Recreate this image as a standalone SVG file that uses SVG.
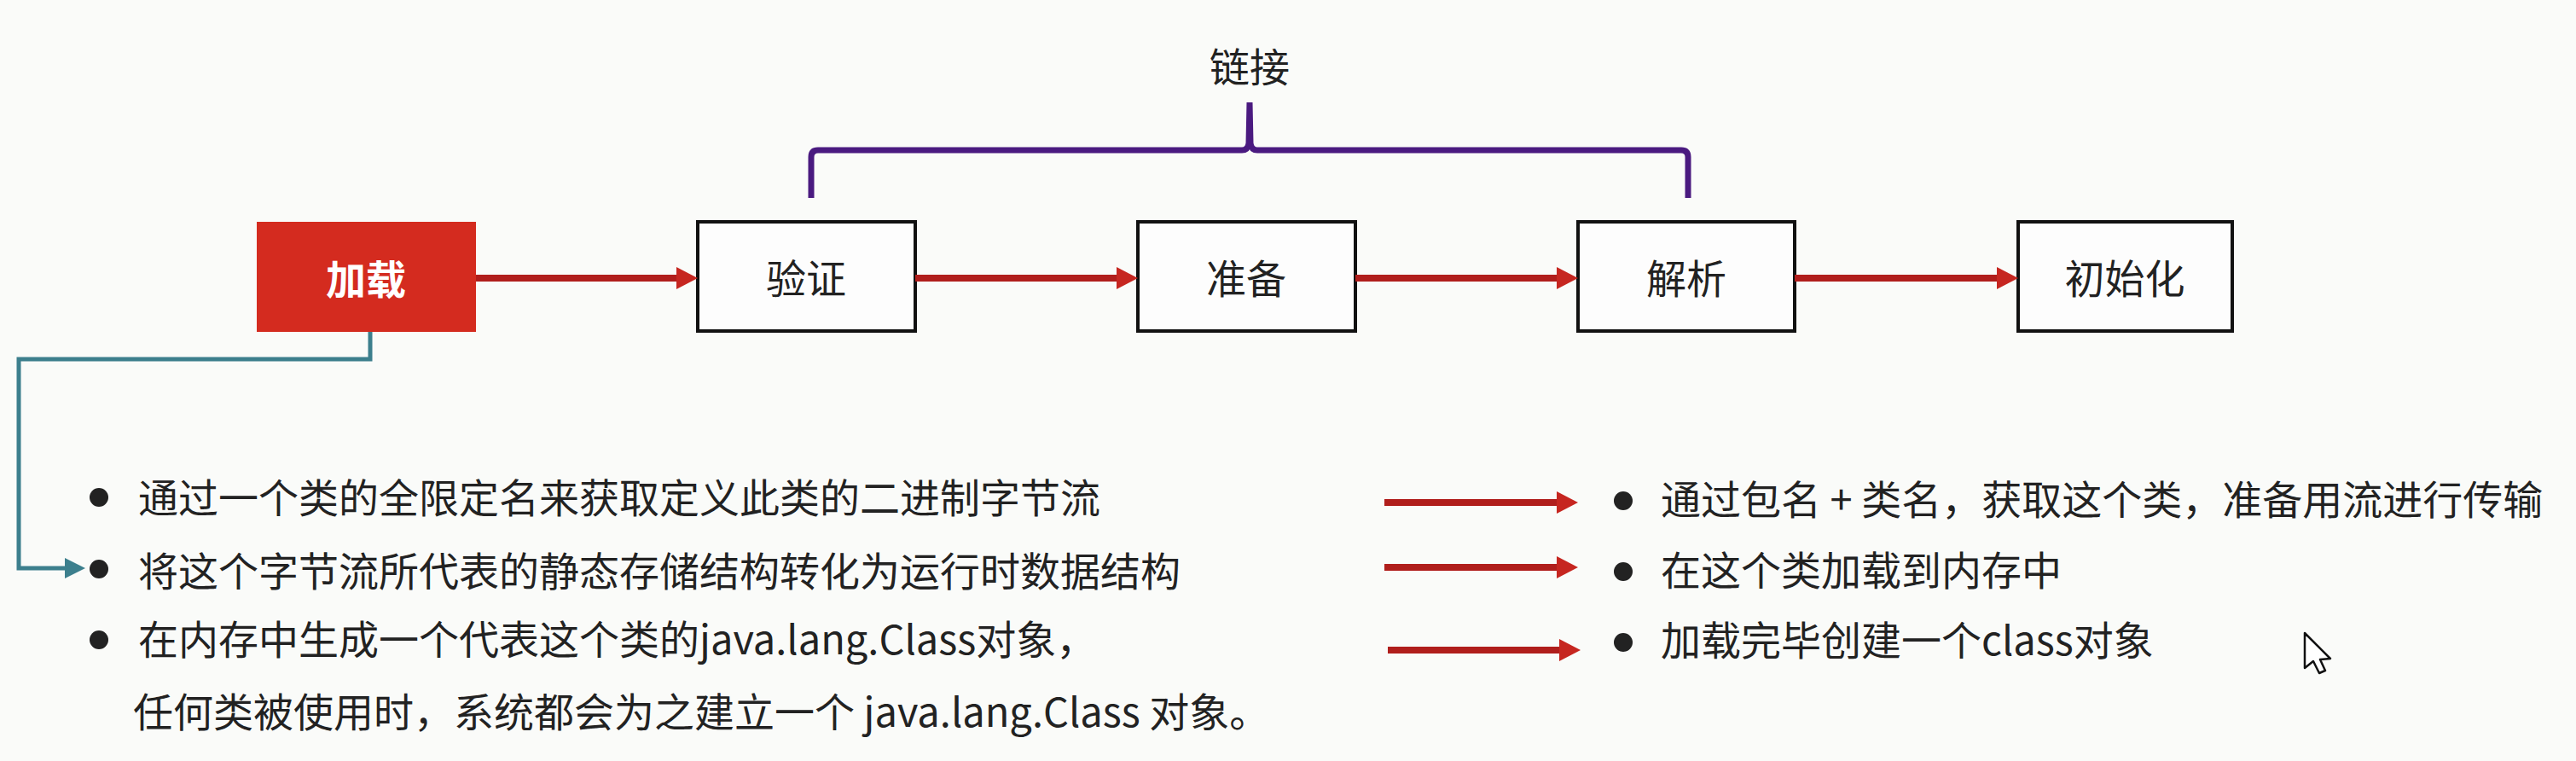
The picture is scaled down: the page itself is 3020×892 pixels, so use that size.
<svg xmlns="http://www.w3.org/2000/svg" width="3020" height="892" viewBox="0 0 3020 892">
  <style>
    .t { font-family: "Noto Sans CJK SC", "Noto Sans", sans-serif; font-size: 47px; fill: #222; }
    .box { fill: #fdfdfd; stroke: #111; stroke-width: 4; }
    .red { stroke: #b01e1c; stroke-width: 8; fill: none; }
    .teal { stroke: #3c7f8d; stroke-width: 5; fill: none; }
    .bullet { fill: #222; }
  </style>
  <defs>
    <marker id="ah" markerUnits="userSpaceOnUse" markerWidth="26" markerHeight="28" refX="1" refY="13" orient="auto">
      <path d="M0,0 L25,13 L0,26 Z" fill="#c62620"/>
    </marker>
    <marker id="ahTeal" markerUnits="userSpaceOnUse" markerWidth="26" markerHeight="26" refX="1" refY="12" orient="auto">
      <path d="M0,0 L24,12 L0,24 Z" fill="#3c7f8d"/>
    </marker>
  </defs>
  <rect width="3020" height="892" fill="#fafbf9"/>

  <g id="brace">
    <path d="M951,232 V184 Q951,176 959,176 H1456 Q1463,176 1464,168 L1465,120 L1466,168 Q1467,176 1474,176 H1971 Q1979,176 1979,184 V232" fill="none" stroke="#4a1a80" stroke-width="7"/>
    <text class="t" x="1465" y="96" text-anchor="middle">链接</text>
  </g>

  <g id="node-load">
    <rect x="301" y="260" width="257" height="129" fill="#d42b1f"/>
    <text class="t" x="429" y="345" text-anchor="middle" style="fill:#fff;font-weight:bold">加载</text>
  </g>
  <g id="node-verify">
    <rect class="box" x="818" y="260" width="255" height="128"/>
    <text class="t" x="945" y="344" text-anchor="middle">验证</text>
  </g>
  <g id="node-prepare">
    <rect class="box" x="1334" y="260" width="255" height="128"/>
    <text class="t" x="1461" y="344" text-anchor="middle">准备</text>
  </g>
  <g id="node-resolve">
    <rect class="box" x="1850" y="260" width="254" height="128"/>
    <text class="t" x="1977" y="344" text-anchor="middle">解析</text>
  </g>
  <g id="node-init">
    <rect class="box" x="2366" y="260" width="251" height="128"/>
    <text class="t" x="2491" y="344" text-anchor="middle">初始化</text>
  </g>

  <g id="connectors">
    <line class="red" x1="558" y1="326" x2="794" y2="326" marker-end="url(#ah)"/>
    <line class="red" x1="1073" y1="326" x2="1310" y2="326" marker-end="url(#ah)"/>
    <line class="red" x1="1589" y1="326" x2="1826" y2="326" marker-end="url(#ah)"/>
    <line class="red" x1="2104" y1="326" x2="2342" y2="326" marker-end="url(#ah)"/>
    <path class="teal" d="M434,389 V421 H22 V666 H77" marker-end="url(#ahTeal)"/>
    <line class="red" x1="1623" y1="589" x2="1826" y2="589" marker-end="url(#ah)"/>
    <line class="red" x1="1623" y1="665" x2="1826" y2="665" marker-end="url(#ah)"/>
    <line class="red" x1="1627" y1="762" x2="1829" y2="762" marker-end="url(#ah)"/>
  </g>

  <g id="left-list">
    <circle class="bullet" cx="116" cy="583" r="11"/>
    <text class="t" x="162" y="601">通过一个类的全限定名来获取定义此类的二进制字节流</text>
    <circle class="bullet" cx="116" cy="667" r="11"/>
    <text class="t" x="162" y="687">将这个字节流所代表的静态存储结构转化为运行时数据结构</text>
    <circle class="bullet" cx="116" cy="750" r="11"/>
    <text class="t" x="162" y="767">在内存中生成一个代表这个类的java.lang.Class对象，</text>
    <text class="t" x="156" y="852">任何类被使用时，系统都会为之建立一个 java.lang.Class 对象。</text>
  </g>

  <g id="right-list">
    <circle class="bullet" cx="1903" cy="587" r="11"/>
    <text class="t" x="1947" y="603">通过包名 + 类名，获取这个类，准备用流进行传输</text>
    <circle class="bullet" cx="1903" cy="670" r="11"/>
    <text class="t" x="1947" y="686">在这个类加载到内存中</text>
    <circle class="bullet" cx="1903" cy="753" r="11"/>
    <text class="t" x="1947" y="768">加载完毕创建一个class对象</text>
  </g>

  <g id="cursor">
    <path d="M2702,742 V783 L2712,775 L2719,789 L2726,786 L2720,773 L2732,772 Z" fill="#fff" stroke="#111" stroke-width="2.5" stroke-linejoin="round"/>
  </g>
</svg>
